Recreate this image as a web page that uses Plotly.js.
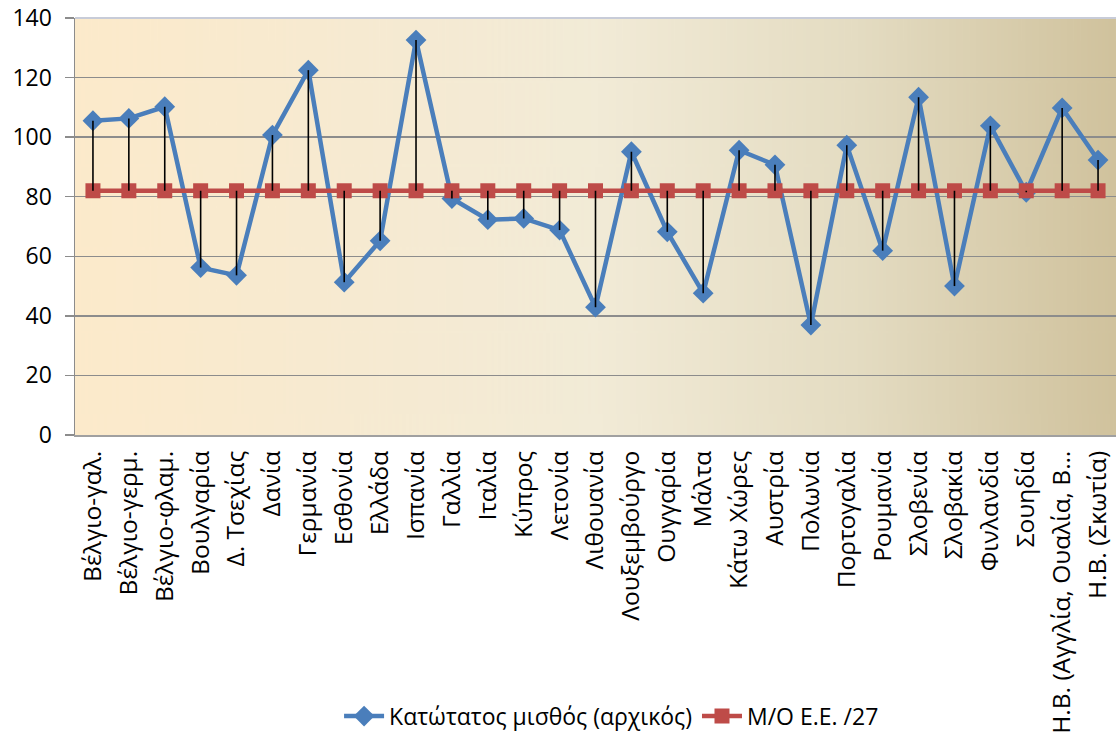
<!DOCTYPE html>
<html>
<head>
<meta charset="utf-8">
<script src="https://cdn.plot.ly/plotly-3.0.1.min.js"></script>
<style>html,body{margin:0;padding:0;background:#fff;}#chart{width:1116px;height:733px;}</style>
</head>
<body>
<div id="chart"></div>
<script>
const categories = ["Βέλγιο-γαλ.","Βέλγιο-γερμ.","Βέλγιο-φλαμ.","Βουλγαρία","Δ. Τσεχίας","Δανία","Γερμανία","Εσθονία","Ελλάδα","Ισπανία","Γαλλία","Ιταλία","Κύπρος","Λετονία","Λιθουανία","Λουξεμβούργο","Ουγγαρία","Μάλτα","Κάτω Χώρες","Αυστρία","Πολωνία","Πορτογαλία","Ρουμανία","Σλοβενία","Σλοβακία","Φινλανδία","Σουηδία","Η.Β. (Αγγλία, Ουαλία, Β…","Η.Β. (Σκωτία)"];
const minWage = [105.5,106.3,110.2,56.2,53.6,100.7,122.5,51.3,65.2,132.6,79.4,72.3,72.7,68.8,42.9,95.1,68.2,47.6,95.6,90.7,36.9,97.3,61.9,113.4,50.0,103.8,81.5,109.8,92.3];
const euAvg = [82,82,82,82,82,82,82,82,82,82,82,82,82,82,82,82,82,82,82,82,82,82,82,82,82,82,82,82,82];
const yTicks = [0,20,40,60,80,100,120,140];

const cv = document.createElement('canvas');
cv.width = 600; cv.height = 10;
const ctx = cv.getContext('2d');
const g = ctx.createLinearGradient(0,0,600,0);
g.addColorStop(0,'#FCEACB');
g.addColorStop(0.5,'#F2EBD7');
g.addColorStop(0.75,'#E4DCC2');
g.addColorStop(1,'#D0C29D');
ctx.fillStyle = g; ctx.fillRect(0,0,600,10);
const bg = cv.toDataURL('image/png');

const dx = [], dy = [];
categories.forEach((c,i)=>{ dx.push(c,c,null); dy.push(minWage[i], euAvg[i], null); });

const font = "Open Sans";

const traces = [
  {x: categories, y: minWage, name: 'Κατώτατος μισθός (αρχικός)', type:'scatter', mode:'lines+markers',
   line:{color:'#4A7EBB', width:4.5}, marker:{symbol:'diamond', size:16, color:'#4A7EBB'}},
  {x: categories, y: euAvg, name: 'Μ/Ο Ε.Ε. /27', type:'scatter', mode:'lines+markers',
   line:{color:'#BE4B48', width:4.5}, marker:{symbol:'square', size:15, color:'#BE4B48'}},
  {x: dx, y: dy, type:'scatter', mode:'lines', line:{color:'#000', width:1.6}, showlegend:false, hoverinfo:'skip'}
];

const layout = {
  width:1116, height:733,
  margin:{l:75, r:0, t:18, b:298},
  paper_bgcolor:'#ffffff', plot_bgcolor:'rgba(0,0,0,0)',
  font:{family:font, color:'#000'},
  images:[{source:bg, xref:'paper', yref:'paper', x:0, y:1, sizex:1, sizey:1, sizing:'stretch', xanchor:'left', yanchor:'top', layer:'below'}],
  xaxis:{type:'category', categoryorder:'array', categoryarray:categories, range:[-0.5,28.5], tickangle:-90,
    tickfont:{size:24.5, family:font, color:'#000'}, showgrid:false, showline:true, linecolor:'#A0A0A0', linewidth:2, ticks:'', zeroline:false,
    ticklabelstandoff:4, automargin:false},
  yaxis:{range:[0,140], tickvals:yTicks, ticktext:yTicks.map(String), tickfont:{size:23, family:font, color:'#000'},
    showgrid:true, gridcolor:'#8C8C8C', gridwidth:1.5, showline:true, linecolor:'#8C8C8C', linewidth:1.5,
    ticks:'outside', ticklen:9, tickcolor:'#8C8C8C', tickwidth:1.5, zeroline:false, ticklabelstandoff:8, automargin:false},
  shapes:[{type:'line', xref:'paper', yref:'paper', x0:0, x1:1, y0:1, y1:1, line:{color:'#C8CCD8', width:2}}],
  legend:{orientation:'h', xref:'container', yref:'container', x:0.548, xanchor:'center', y:0.023, yanchor:'middle',
    font:{size:23, family:font}, itemwidth:40, traceorder:'normal', bgcolor:'rgba(0,0,0,0)'},
  showlegend:true
};

Plotly.newPlot('chart', traces, layout, {displayModeBar:false, staticPlot:true});
</script>
</body>
</html>
